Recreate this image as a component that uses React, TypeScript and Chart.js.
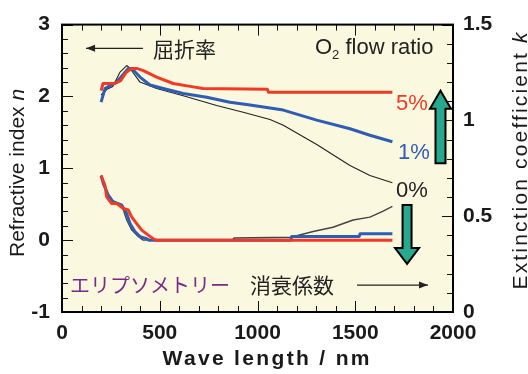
import React, { useEffect, useRef } from "react";
import { Chart, registerables } from "chart.js";
Chart.register(...registerables);

const FONT = "'Liberation Sans', Arial, Helvetica, sans-serif";
const CJK = "'Noto Sans CJK JP', 'Noto Sans CJK SC', sans-serif";
const BG = "#FAF8DE";
const RED = "#F03A26";
const BLUE = "#2E5DB3";
const BLACK = "#1a1a1a";
const TEAL = "#27A98F";
const PURPLE = "#7A2A86";

const xTickValues = [0, 500, 1000, 1500, 2000];
const nTickValues = [-1, 0, 1, 2, 3];
const kTickValues = [0, 0.5, 1, 1.5];

// Refractive index n (left axis)
const n5X = [200, 210, 270, 300, 330, 357, 382, 416, 484, 569, 655, 721, 1050, 1056, 1690];
const n5Y = [2.08, 2.18, 2.18, 2.22, 2.34, 2.39, 2.39, 2.36, 2.27, 2.18, 2.14, 2.11, 2.1, 2.06, 2.06];
const n1X = [200, 220, 246, 280, 314, 339, 357, 399, 450, 518, 620, 740, 859, 962, 1064, 1132, 1303, 1473, 1575, 1690];
const n1Y = [1.92, 2.11, 2.15, 2.2, 2.31, 2.39, 2.39, 2.27, 2.16, 2.11, 2.04, 1.99, 1.92, 1.88, 1.84, 1.81, 1.67, 1.55, 1.46, 1.37];
const n0X = [200, 230, 260, 297, 331, 345, 399, 484, 620, 791, 927, 1064, 1132, 1303, 1473, 1575, 1690];
const n0Y = [2.02, 2.1, 2.14, 2.34, 2.43, 2.4, 2.2, 2.11, 2.01, 1.875, 1.78, 1.68, 1.6, 1.33, 1.04, 0.9, 0.8];

// Extinction coefficient k (drawn against the left scale as in the figure)
const k5X = [200, 220, 229, 254, 280, 314, 339, 357, 382, 408, 441, 467, 480, 1690];
const k5Y = [0.9, 0.76, 0.6, 0.51, 0.51, 0.44, 0.42, 0.32, 0.23, 0.14, 0.07, 0.02, 0, 0];
const k1X = [200, 211, 237, 262, 305, 331, 348, 373, 399, 433, 445, 1170, 1175, 1520, 1525, 1690];
const k1Y = [0.9, 0.79, 0.625, 0.53, 0.49, 0.37, 0.23, 0.12, 0.05, 0.02, 0, 0, 0.05, 0.05, 0.09, 0.09];
const k0X = [200, 230, 260, 300, 314, 331, 357, 390, 415, 870, 880, 1170, 1285, 1386, 1489, 1575, 1640, 1690];
const k0Y = [0.88, 0.65, 0.55, 0.5, 0.42, 0.28, 0.14, 0.05, 0, 0, 0.03, 0.04, 0.12, 0.18, 0.28, 0.32, 0.4, 0.47];

const pts = (xs: number[], ys: number[]) => xs.map((x, i) => ({ x, y: ys[i] }));

function thinArrow(ctx: CanvasRenderingContext2D, x1: number, x2: number, y: number) {
  ctx.beginPath();
  ctx.moveTo(x1, y);
  ctx.lineTo(x2, y);
  ctx.stroke();
  const dir = x2 > x1 ? 1 : -1;
  ctx.beginPath();
  ctx.moveTo(x2, y);
  ctx.lineTo(x2 - dir * 9, y - 3.5);
  ctx.lineTo(x2 - dir * 9, y + 3.5);
  ctx.closePath();
  ctx.fill();
}

function blockArrow(ctx: CanvasRenderingContext2D, cx: number, tip: number, headBase: number, end: number, headHalf: number, shaftHalf: number) {
  ctx.beginPath();
  ctx.moveTo(cx, tip);
  ctx.lineTo(cx + headHalf, headBase);
  ctx.lineTo(cx + shaftHalf, headBase);
  ctx.lineTo(cx + shaftHalf, end);
  ctx.lineTo(cx - shaftHalf, end);
  ctx.lineTo(cx - shaftHalf, headBase);
  ctx.lineTo(cx - headHalf, headBase);
  ctx.closePath();
  ctx.fillStyle = TEAL;
  ctx.fill();
  ctx.lineWidth = 2;
  ctx.strokeStyle = "#000";
  ctx.lineJoin = "miter";
  ctx.stroke();
}

// Draws text (plain part + italic tail) centred on 0 with letter spacing chosen to fill `span` px
function spacedTitle(ctx: CanvasRenderingContext2D, plain: string, italic: string, size: number, bold: boolean, span: number) {
  const base = `${bold ? "bold " : ""}${size}px ${FONT}`;
  const ital = `italic ${bold ? "bold " : ""}${size}px ${FONT}`;
  (ctx as any).letterSpacing = "0px";
  ctx.font = base;
  const a = ctx.measureText(plain).width;
  ctx.font = ital;
  const b = italic ? ctx.measureText(italic).width : 0;
  const nChars = plain.length + italic.length;
  const sp = Math.max(0, (span - a - b) / Math.max(1, nChars - 1));
  (ctx as any).letterSpacing = `${sp}px`;
  const start = -span / 2;
  ctx.font = base;
  ctx.fillText(plain, start, 0);
  if (italic) {
    ctx.font = ital;
    ctx.fillText(italic, start + a + sp * plain.length, 0);
  }
  (ctx as any).letterSpacing = "0px";
}

const framePlugin = {
  id: "frame",
  beforeDraw(chart: any) {
    const { ctx, chartArea: a } = chart;
    ctx.save();
    ctx.fillStyle = BG;
    ctx.fillRect(a.left, a.top, a.right - a.left, a.bottom - a.top);
    ctx.restore();
  },
  afterDraw(chart: any) {
    const { ctx, chartArea: a, scales } = chart;
    const xs = scales.x, ys = scales.y, ks = scales.y2;
    const X = (v: number) => xs.getPixelForValue(v);
    const Y = (v: number) => ys.getPixelForValue(v);
    ctx.save();
    ctx.strokeStyle = "#111";
    ctx.lineWidth = 1;
    const seg = (x1: number, y1: number, x2: number, y2: number) => {
      ctx.beginPath();
      ctx.moveTo(x1, y1);
      ctx.lineTo(x2, y2);
      ctx.stroke();
    };
    for (let i = 0; i <= 20; i++) {
      const px = Math.round(X(i * 100)) + 0.5;
      const len = i % 5 === 0 ? 11 : 6;
      seg(px, a.bottom, px, a.bottom - len);
      seg(px, a.top, px, a.top + len);
    }
    for (let i = -5; i <= 15; i++) {
      const py = Math.round(Y(i * 0.2)) + 0.5;
      const len = i % 5 === 0 ? 11 : 6;
      seg(a.left, py, a.left + len, py);
    }
    for (let i = 0; i <= 15; i++) {
      const py = Math.round(ks.getPixelForValue(i * 0.1)) + 0.5;
      const len = i % 5 === 0 ? 11 : 6;
      seg(a.right, py, a.right - len, py);
    }
    ctx.lineWidth = 2;
    ctx.strokeStyle = "#000";
    ctx.strokeRect(a.left, a.top, a.right - a.left, a.bottom - a.top);

    // Axis titles
    ctx.fillStyle = BLACK;
    ctx.textBaseline = "alphabetic";
    ctx.textAlign = "left";
    ctx.save();
    ctx.translate(24, 173);
    ctx.rotate(-Math.PI / 2);
    spacedTitle(ctx, "Refractive index ", "n", 21, false, 168);
    ctx.restore();
    ctx.save();
    ctx.translate(527, 161);
    ctx.rotate(-Math.PI / 2);
    spacedTitle(ctx, "Extinction coefficient ", "k", 21, false, 257);
    ctx.restore();
    ctx.save();
    ctx.translate(266, 365);
    spacedTitle(ctx, "Wave length / nm", "", 21, true, 207);
    ctx.restore();

    // Annotations
    ctx.textBaseline = "middle";
    ctx.textAlign = "left";
    ctx.fillStyle = "#222";
    ctx.strokeStyle = "#222";
    ctx.lineWidth = 1.2;
    const yTop = Y(2.67);
    thinArrow(ctx, X(414), X(123), yTop);
    ctx.font = `21px ${CJK}`;
    ctx.fillText("屈折率", X(465), yTop + 1);

    ctx.font = `22px ${FONT}`;
    const ox = X(1294);
    const oy = Y(2.68);
    ctx.fillText("O", ox, oy);
    const wO = ctx.measureText("O").width;
    ctx.font = `13px ${FONT}`;
    ctx.fillText("2", ox + wO, oy + 8);
    const w2s = ctx.measureText("2").width;
    ctx.font = `22px ${FONT}`;
    ctx.fillText(" flow ratio", ox + wO + w2s, oy);

    ctx.font = `22px ${FONT}`;
    ctx.fillStyle = RED;
    ctx.fillText("5%", X(1708), Y(1.89));
    ctx.fillStyle = BLUE;
    ctx.fillText("1%", X(1719), Y(1.22));
    ctx.fillStyle = "#222";
    ctx.fillText("0%", X(1708), Y(0.69));

    const yB = Y(-0.625);
    ctx.fillStyle = PURPLE;
    ctx.font = `20px ${CJK}`;
    ctx.fillText("エリプソメトリー", X(41), yB);
    ctx.fillStyle = "#222";
    ctx.font = `21px ${CJK}`;
    ctx.fillText("消衰係数", X(962), yB);
    thinArrow(ctx, X(1509), X(1872), yB);

    blockArrow(ctx, X(1936), Y(2.08), Y(1.83), Y(1.07), 10.5, 5);
    blockArrow(ctx, X(1765), Y(-0.33), Y(-0.11), Y(0.49), 12, 4.5);
    ctx.restore();
  },
};

export default function App() {
  const ref = useRef<HTMLCanvasElement>(null);
  useEffect(() => {
    if (!ref.current) return;
    const tickFont = { family: FONT, size: 21, weight: "bold" as const };
    const chart = new Chart(ref.current, {
      type: "line",
      data: {
        datasets: [
          { label: "n 5%", data: pts(n5X, n5Y), borderColor: RED, borderWidth: 3, yAxisID: "y" },
          { label: "k 5%", data: pts(k5X, k5Y), borderColor: RED, borderWidth: 3, yAxisID: "y" },
          { label: "n 1%", data: pts(n1X, n1Y), borderColor: BLUE, borderWidth: 3, yAxisID: "y" },
          { label: "k 1%", data: pts(k1X, k1Y), borderColor: BLUE, borderWidth: 3, yAxisID: "y" },
          { label: "n 0%", data: pts(n0X, n0Y), borderColor: "#222", borderWidth: 1.1, yAxisID: "y" },
          { label: "k 0%", data: pts(k0X, k0Y), borderColor: "#444", borderWidth: 1.4, yAxisID: "y" },
        ].map((d) => ({ ...d, pointRadius: 0, tension: 0, fill: false, borderJoinStyle: "round" as const })),
      },
      options: {
        responsive: false,
        animation: false,
        layout: { padding: { top: 24, left: 0, right: 0, bottom: 0 } },
        plugins: { legend: { display: false }, tooltip: { enabled: false } },
        scales: {
          x: {
            type: "linear",
            min: 0,
            max: 2000,
            afterBuildTicks: (s: any) => { s.ticks = xTickValues.map((v) => ({ value: v })); },
            ticks: { font: tickFont, color: BLACK, padding: 9, maxRotation: 0, callback: (v: any) => String(v) },
            grid: { display: false, drawTicks: false },
            border: { display: false },
            afterFit: (s: any) => { s.height = 62; },
          },
          y: {
            type: "linear",
            position: "left",
            min: -1,
            max: 3,
            afterBuildTicks: (s: any) => { s.ticks = nTickValues.map((v) => ({ value: v })); },
            ticks: { font: tickFont, color: BLACK, padding: 12, callback: (v: any) => String(v) },
            grid: { display: false, drawTicks: false },
            border: { display: false },
            afterFit: (s: any) => { s.width = 62; },
          },
          y2: {
            type: "linear",
            position: "right",
            min: 0,
            max: 1.5,
            afterBuildTicks: (s: any) => { s.ticks = kTickValues.map((v) => ({ value: v })); },
            ticks: { font: tickFont, color: BLACK, padding: 10, callback: (v: any) => String(v) },
            grid: { display: false, drawTicks: false },
            border: { display: false },
            afterFit: (s: any) => { s.width = 75; },
          },
        },
      },
      plugins: [framePlugin],
    });
    return () => chart.destroy();
  }, []);
  return (
    <div style={{ position: "absolute", left: 0, top: 0, width: 528, height: 374, background: "#fff" }}>
      <canvas ref={ref} width={528} height={374} style={{ width: 528, height: 374, display: "block" }} />
    </div>
  );
}
